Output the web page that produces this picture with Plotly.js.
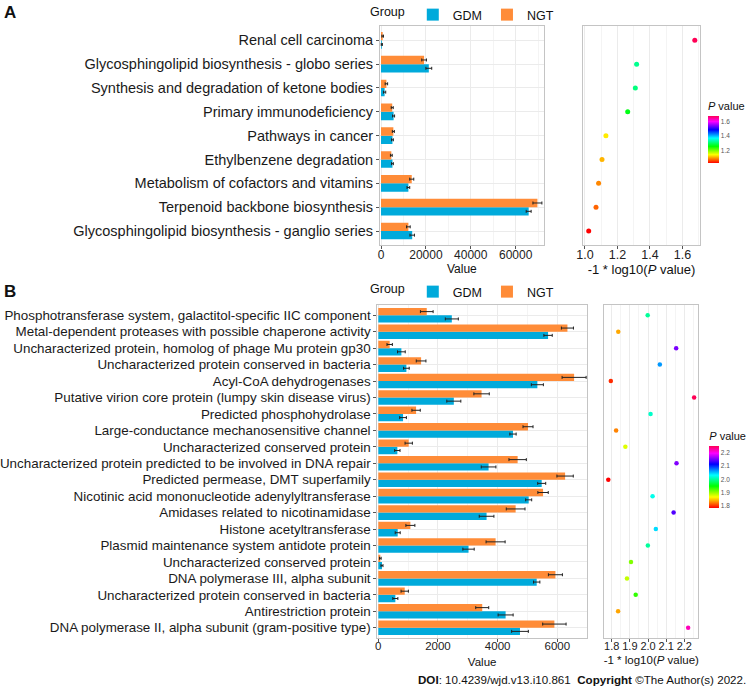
<!DOCTYPE html>
<html>
<head>
<meta charset="utf-8">
<script src="https://cdn.plot.ly/plotly-3.0.1.min.js"></script>
<style>
  body { margin: 0; background: #fff; }
  #chart { width: 751px; height: 689px; }
</style>
</head>
<body>
<div id="chart"></div>
<script>
// ---- panel A: KEGG pathways ----
var catsA = ['Renal cell carcinoma', 'Glycosphingolipid biosynthesis - globo series',
  'Synthesis and degradation of ketone bodies', 'Primary immunodeficiency',
  'Pathways in cancer', 'Ethylbenzene degradation', 'Metabolism of cofactors and vitamins',
  'Terpenoid backbone biosynthesis', 'Glycosphingolipid biosynthesis - ganglio series'];
var gdmA = [350, 21300, 1600, 5600, 5100, 5100, 12200, 65800, 13900];
var gdmErrA = [250, 1300, 500, 450, 400, 400, 600, 1100, 1000];
var ngtA = [750, 19200, 2400, 5000, 5500, 4600, 13700, 69700, 12200];
var ngtErrA = [350, 1050, 550, 450, 450, 400, 900, 2000, 800];
var logpA = [1.676, 1.318, 1.31, 1.263, 1.129, 1.105, 1.084, 1.068, 1.023];

// ---- panel B: COG functions ----
var catsB = ['Phosphotransferase system, galactitol-specific IIC component',
  'Metal-dependent proteases with possible chaperone activity',
  'Uncharacterized protein, homolog of phage Mu protein gp30',
  'Uncharacterized protein conserved in bacteria',
  'Acyl-CoA dehydrogenases',
  'Putative virion core protein (lumpy skin disease virus)',
  'Predicted phosphohydrolase',
  'Large-conductance mechanosensitive channel',
  'Uncharacterized conserved protein',
  'Uncharacterized protein predicted to be involved in DNA repair',
  'Predicted permease, DMT superfamily',
  'Nicotinic acid mononucleotide adenylyltransferase',
  'Amidases related to nicotinamidase',
  'Histone acetyltransferase',
  'Plasmid maintenance system antidote protein',
  'Uncharacterized conserved protein',
  'DNA polymerase III, alpha subunit',
  'Uncharacterized protein conserved in bacteria',
  'Antirestriction protein',
  'DNA polymerase II, alpha subunit (gram-positive type)'];
var gdmB = [2464, 5690, 773, 941, 5331, 2531, 829, 4514, 638, 3696, 5477, 5040, 3629, 650, 3024, 123, 5309, 571, 4267, 4749];
var gdmErrB = [218, 140, 129, 95, 202, 235, 112, 106, 90, 246, 134, 101, 246, 84, 190, 34, 106, 84, 252, 280];
var ngtB = [1624, 6339, 381, 1434, 6563, 3461, 1266, 5018, 1019, 4670, 6261, 5522, 4603, 1075, 3931, 67, 5936, 885, 3483, 5902];
var ngtErrB = [213, 202, 90, 162, 403, 258, 140, 168, 123, 291, 274, 174, 314, 151, 319, 28, 235, 123, 218, 392];
var logpB = [1.998, 1.836, 2.155, 2.065, 1.795, 2.254, 2.014, 1.824, 1.875, 2.157, 1.781, 2.025, 2.141, 2.043, 1.999, 1.906, 1.884, 1.932, 1.835, 2.221];

var BLUE = '#00AADB', ORANGE = '#FF8C38';
var FONT = 'Liberation Sans, Arial, sans-serif';

// rainbow colour scale, red -> ... -> pink
function hsv(h) {
  var x = 1 - Math.abs((h / 60) % 2 - 1), r, g, b;
  if (h < 60) { r = 1; g = x; b = 0; }
  else if (h < 120) { r = x; g = 1; b = 0; }
  else if (h < 180) { r = 0; g = 1; b = x; }
  else if (h < 240) { r = 0; g = x; b = 1; }
  else if (h < 300) { r = x; g = 0; b = 1; }
  else { r = 1; g = 0; b = x; }
  return 'rgb(' + Math.round(r * 255) + ',' + Math.round(g * 255) + ',' + Math.round(b * 255) + ')';
}
var rainbow = [];
for (var i = 0; i <= 17; i++) rainbow.push([i / 17, hsv(340 * i / 17)]);

var idxA = catsA.map(function (c, i) { return i; });
var idxB = catsB.map(function (c, i) { return i; });

function bars(name, vals, errs, idx, color, xa, ya, w, off, leg, show) {
  return {
    type: 'bar', orientation: 'h', name: name, x: vals, y: idx,
    xaxis: xa, yaxis: ya, width: w, offset: off,
    marker: {color: color, line: {width: 0}},
    error_x: {type: 'data', array: errs, color: '#222', thickness: 1, width: 1.5},
    legend: leg, showlegend: show, hoverinfo: 'x'
  };
}

function dots(vals, idx, xa, ya, size, cb) {
  return {
    type: 'scatter', mode: 'markers', x: vals, y: idx, xaxis: xa, yaxis: ya,
    showlegend: false,
    marker: {size: size, color: vals, colorscale: rainbow,
      cmin: Math.min.apply(null, vals), cmax: Math.max.apply(null, vals),
      showscale: true, colorbar: cb}
  };
}

function cbar(x, ytop, len, thick, tv) {
  return {
    x: x, xanchor: 'left', y: ytop, yanchor: 'top', xpad: 0, ypad: 0,
    lenmode: 'pixels', len: len, thickness: thick, outlinewidth: 0,
    tickvals: tv, tickformat: '.1f', ticks: '', tickfont: {size: 6.5, color: '#555', family: FONT},
    title: {text: '<i>P</i> value', side: 'top', font: {size: 11, color: '#111', family: FONT}}
  };
}

var data = [
  bars('GDM', gdmA, gdmErrA, idxA, BLUE, 'x', 'y', 0.35, 0, 'legend', true),
  bars('NGT', ngtA, ngtErrA, idxA, ORANGE, 'x', 'y', 0.35, -0.35, 'legend', true),
  dots(logpA, idxA, 'x2', 'y2', 5, cbar(0.9427, 1 - 99 / 689, 64, 11, [1.2, 1.4, 1.6])),
  bars('GDM', gdmB, gdmErrB, idxB, BLUE, 'x3', 'y3', 0.445, 0, 'legend2', true),
  bars('NGT', ngtB, ngtErrB, idxB, ORANGE, 'x3', 'y3', 0.445, -0.445, 'legend2', true),
  dots(logpB, idxB, 'x4', 'y4', 4.5, cbar(0.9444, 1 - 429 / 689, 79, 10, [1.8, 1.9, 2.0, 2.1, 2.2]))
];

var grid = '#EBEBEB', minorGrid = '#F4F4F4', border = '#C4C4C4';

function xax(dom, range, dtick, minor, anchor, tsize, fmt, title, tfs, standoff) {
  return {
    domain: dom, range: range, anchor: anchor, dtick: dtick, tick0: 0, tickformat: fmt,
    showgrid: true, gridcolor: grid, gridwidth: 1, zeroline: false,
    minor: {dtick: minor, showgrid: true, gridcolor: minorGrid, gridwidth: 1},
    showline: true, mirror: true, linecolor: border, linewidth: 1,
    ticks: 'outside', ticklen: 3, tickcolor: '#555', ticklabelstandoff: -5,
    tickfont: {size: tsize, color: '#222', family: FONT},
    title: {text: title, standoff: standoff, font: {size: tfs, color: '#111', family: FONT}}
  };
}
function yax(dom, n, anchor, labels, fs) {
  return {
    domain: dom, range: [n - 0.4, -0.6], anchor: anchor,
    tickvals: labels ? labels.map(function (c, i) { return i; }) : [],
    ticktext: labels || [], showticklabels: !!labels,
    showgrid: true, gridcolor: grid, gridwidth: 1, zeroline: false,
    showline: true, mirror: true, linecolor: border, linewidth: 1,
    ticks: labels ? 'outside' : '', ticklen: 3, tickcolor: '#555',
    tickfont: {size: fs, color: '#1a1a1a', family: FONT}
  };
}

var yA = [1 - 245.3 / 689, 1 - 26 / 689];
var yB = [1 - 637.6 / 689, 1 - 305.4 / 689];

function groupLegend(ytop) {
  return {
    orientation: 'h', x: 368 / 751, xanchor: 'left', y: 1 - ytop / 689, yanchor: 'top',
    title: {text: 'Group', side: 'left', font: {size: 12.5}},
    font: {size: 12.5, color: '#111'}, bgcolor: 'rgba(0,0,0,0)', borderwidth: 0,
    tracegroupgap: 0, itemclick: false
  };
}

var layout = {
  width: 751, height: 689,
  margin: {l: 0, r: 0, t: 0, b: 0},
  paper_bgcolor: '#fff', plot_bgcolor: '#fff',
  font: {family: FONT, color: '#111'},
  barmode: 'overlay',
  xaxis: xax([380 / 751, 543.7 / 751], [-450, 72500], 20000, 10000, 'y', 12, 'd', 'Value', 12, 0),
  yaxis: yax(yA, catsA.length, 'x', catsA, 14.5),
  xaxis2: xax([583 / 751, 700 / 751], [0.988, 1.708], 0.2, 0.1, 'y2', 12.5, '.1f', '-1 * log10(<i>P</i> value)', 13, 0),
  yaxis2: yax(yA, catsA.length, 'x2', null, 14),
  xaxis3: xax([377.3 / 751, 587 / 751], [-34, 6995], 2000, 1000, 'y3', 11.5, 'd', 'Value', 11.5, 6),
  yaxis3: yax(yB, catsB.length, 'x3', catsB, 13.4),
  xaxis4: xax([604.3 / 751, 698.3 / 751], [1.759, 2.277], 0.1, 0.05, 'y4', 11, '.1f', '-1 * log10(<i>P</i> value)', 11.5, 5),
  yaxis4: yax(yB, catsB.length, 'x4', null, 13),
  legend: groupLegend(0),
  legend2: groupLegend(277),
  annotations: [
    {text: '<b>A</b>', x: 2 / 751, y: 1 - 1 / 689, xref: 'paper', yref: 'paper',
      xanchor: 'left', yanchor: 'top', showarrow: false, font: {size: 17, color: '#111'}},
    {text: '<b>B</b>', x: 2 / 751, y: 1 - 280 / 689, xref: 'paper', yref: 'paper',
      xanchor: 'left', yanchor: 'top', showarrow: false, font: {size: 17, color: '#111'}},
    {text: '<b>DOI</b>: 10.4239/wjd.v13.i10.861  <b>Copyright</b> ©The Author(s) 2022.',
      x: 748 / 751, y: 1 - 679 / 689, xref: 'paper', yref: 'paper',
      xanchor: 'right', yanchor: 'middle', showarrow: false, font: {size: 11.6, color: '#111'}}
  ]
};

Plotly.newPlot('chart', data, layout, {displayModeBar: false, staticPlot: true});
</script>
</body>
</html>
